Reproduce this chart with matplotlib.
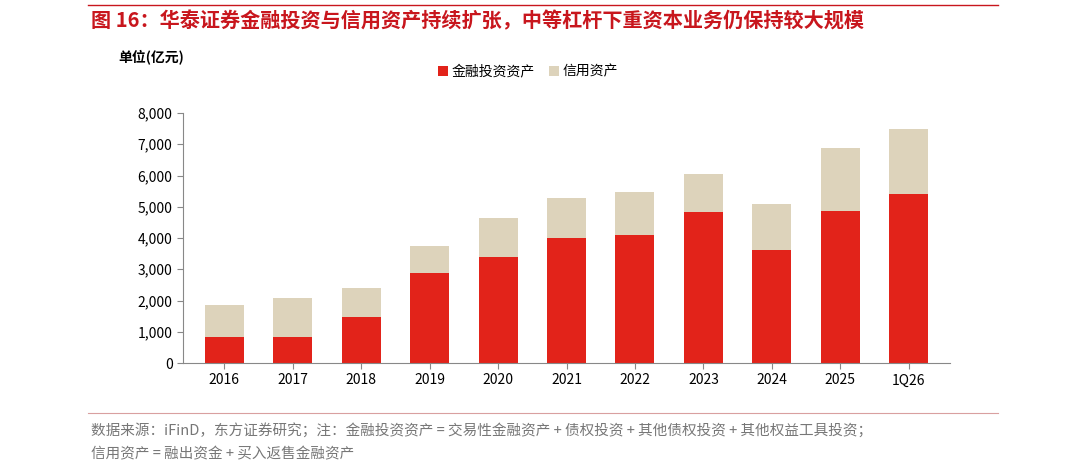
import matplotlib
matplotlib.use("Agg")
import matplotlib.pyplot as plt
import numpy as np

plt.rcParams['font.family'] = ['Noto Sans CJK SC', 'DejaVu Sans']

years = ["2016", "2017", "2018", "2019", "2020", "2021", "2022", "2023", "2024", "2025", "1Q26"]
invest = [830, 840, 1470, 2880, 3390, 4000, 4100, 4830, 3620, 4860, 5410]
total = [1860, 2080, 2400, 3740, 4640, 5280, 5470, 6050, 5090, 6880, 7490]
credit = [t - i for t, i in zip(total, invest)]

W, H = 1080, 473
fig = plt.figure(figsize=(W / 100, H / 100), dpi=100)
ax = fig.add_axes([183 / W, 1 - 363 / H, (950 - 183) / W, 250 / H])

x = np.arange(len(years))
ax.bar(x, invest, width=0.57, color="#e2231a", label="金融投资资产")
ax.bar(x, credit, width=0.57, bottom=invest, color="#ddd3bb", label="信用资产")

ax.set_ylim(0, 8000)
ax.set_yticks(range(0, 8001, 1000))
ax.set_yticklabels([f"{v:,}" for v in range(0, 8001, 1000)], fontsize=10)
ax.set_xticks(x)
ax.set_xticklabels(years, fontsize=10)
ax.set_xlim(-0.6, len(years) - 0.4)
for s in ["top", "right"]:
    ax.spines[s].set_visible(False)
ax.spines["left"].set_color("#888888")
ax.spines["bottom"].set_color("#888888")
ax.tick_params(axis="x", length=4, color="#888888")
ax.tick_params(axis="y", length=4, color="#888888")

ax.legend(loc="center", bbox_to_anchor=(0.45, 1.165), ncol=2, frameon=False,
          fontsize=10, handlelength=0.7, handleheight=0.7, columnspacing=1.0, handletextpad=0.3)

fig.add_artist(plt.Line2D([88 / W, 998 / W], [1 - 5 / H, 1 - 5 / H], color="#c8161d", lw=1))
fig.text(91 / W, 1 - 21 / H, "图 16：华泰证券金融投资与信用资产持续扩张，中等杠杆下重资本业务仍保持较大规模",
         color="#c8161d", fontsize=14.5, fontweight="bold", va="center")
fig.text(118 / W, 1 - 57 / H, "单位(亿元)", fontsize=10, fontweight="bold", va="center")
fig.text(91 / W, 1 - 430 / H,
         "数据来源：iFinD，东方证券研究；注：金融投资资产 = 交易性金融资产 + 债权投资 + 其他债权投资 + 其他权益工具投资；",
         color="#777777", fontsize=10.5, va="center")
fig.text(91 / W, 1 - 454 / H, "信用资产 = 融出资金 + 买入返售金融资产",
         color="#777777", fontsize=10.5, va="center")
fig.add_artist(plt.Line2D([88 / W, 998 / W], [1 - 413 / H, 1 - 413 / H], color="#d9a0a0", lw=0.8))

fig.savefig("out.png", dpi=100)
